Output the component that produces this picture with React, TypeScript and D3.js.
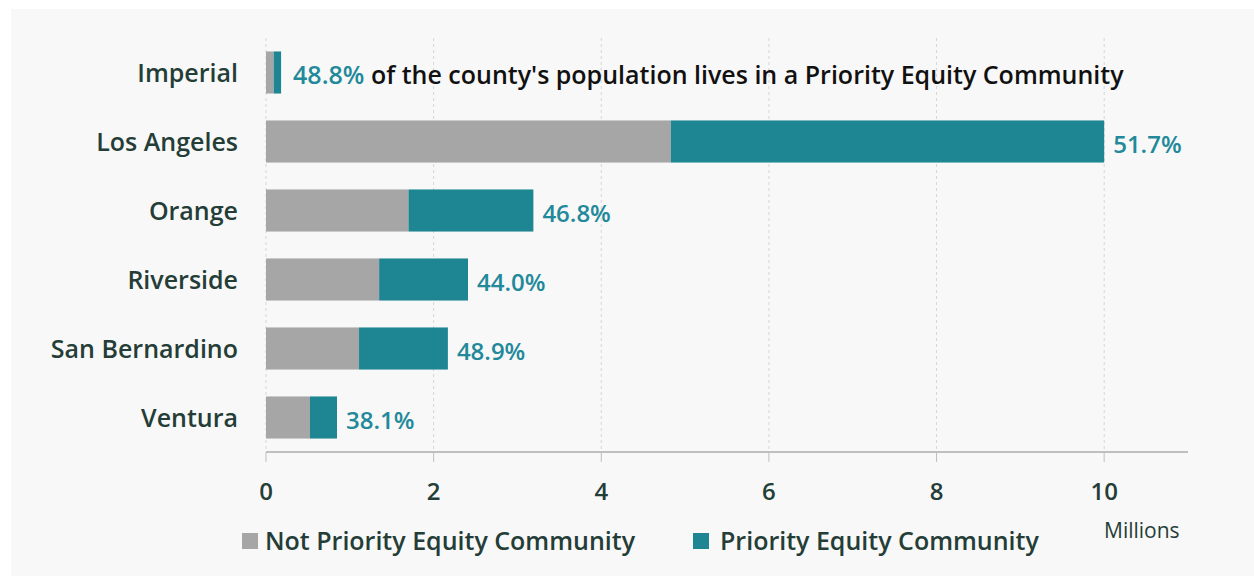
import React from "react";
import * as d3 from "d3";

const categories = ["Imperial", "Los Angeles", "Orange", "Riverside", "San Bernardino", "Ventura"];
const notPriority = [0.092, 4.83, 1.70, 1.35, 1.11, 0.525];
const priority = [0.088, 5.17, 1.49, 1.06, 1.06, 0.322];
const pctLabels = ["48.8%", "51.7%", "46.8%", "44.0%", "48.9%", "38.1%"];
const xTicks = [0, 2, 4, 6, 8, 10];
const legendLabels = ["Not Priority Equity Community", "Priority Equity Community"];
const annotationText = " of the county's population lives in a Priority Equity Community";
const unitLabel = "Millions";

const W = 1254;
const H = 576;
const GRAY = "#a6a6a6";
const TEAL = "#1e8593";
const TEAL_TEXT = "#21899a";
const DARK = "#243d37";
const FONT = "'Open Sans', 'Noto Sans', sans-serif";

export default function App() {
  const x = d3.scaleLinear().domain([0, 11]).range([266, 1188]);
  const y = d3
    .scaleBand<string>()
    .domain(categories)
    .range([38, 452])
    .paddingInner(0.39)
    .paddingOuter(0.195);
  const bw = y.bandwidth();
  const axisY = 452;

  return (
    <svg
      width={W}
      height={H}
      style={{ position: "fixed", left: 0, top: 0, display: "block" }}
      fontFamily={FONT}
    >
      <rect x={0} y={0} width={W} height={H} fill="#ffffff" />
      <rect x={11} y={9} width={W - 11} height={H - 9} fill="#f8f8f8" />

      {/* grid */}
      {xTicks.map((t) => (
        <line
          key={"g" + t}
          x1={x(t)}
          x2={x(t)}
          y1={38}
          y2={axisY}
          stroke="#d6d6d6"
          strokeWidth={1}
          strokeDasharray="3,3"
        />
      ))}

      {/* bars */}
      {categories.map((c, i) => {
        const y0 = y(c)!;
        const total = notPriority[i] + priority[i];
        return (
          <g key={c}>
            <rect x={x(0)} y={y0} width={x(notPriority[i]) - x(0)} height={bw} fill={GRAY} />
            <rect
              x={x(notPriority[i])}
              y={y0}
              width={x(total) - x(notPriority[i])}
              height={bw}
              fill={TEAL}
            />
            <text
              x={238}
              y={y0 + bw / 2 + 9}
              textAnchor="end"
              fontSize={25}
              fontWeight={600}
              fill={DARK}
            >
              {c}
            </text>
            {i === 0 ? (
              <text x={x(total) + 12} y={y0 + bw / 2 + 11} fontSize={25} fontWeight={600}>
                <tspan fill={TEAL_TEXT}>{pctLabels[i]}</tspan>
                <tspan fill="#111111">{annotationText}</tspan>
              </text>
            ) : (
              <text
                x={x(total) + 9}
                y={y0 + bw / 2 + 11}
                fontSize={24}
                fontWeight={600}
                fill={TEAL_TEXT}
              >
                {pctLabels[i]}
              </text>
            )}
          </g>
        );
      })}

      {/* axis */}
      <line x1={x(0)} x2={1188} y1={axisY} y2={axisY} stroke="#bfbfbf" strokeWidth={2} />
      {xTicks.map((t) => (
        <g key={"t" + t}>
          <line x1={x(t)} x2={x(t)} y1={axisY} y2={axisY + 10} stroke="#bfbfbf" strokeWidth={1} />
          <text
            x={x(t)}
            y={500}
            textAnchor="middle"
            fontSize={24}
            fontWeight={600}
            fill={DARK}
          >
            {t}
          </text>
        </g>
      ))}

      {/* legend */}
      <rect x={242} y={533} width={16} height={16} fill={GRAY} />
      <text x={265} y={550} fontSize={25} fontWeight={600} fill={DARK}>
        {legendLabels[0]}
      </text>
      <rect x={693} y={533} width={16} height={16} fill={TEAL} />
      <text x={720} y={550} fontSize={25} fontWeight={600} fill={DARK}>
        {legendLabels[1]}
      </text>
      <text x={1104} y={538} fontSize={21} fontWeight={400} fill={DARK}>
        {unitLabel}
      </text>
    </svg>
  );
}
